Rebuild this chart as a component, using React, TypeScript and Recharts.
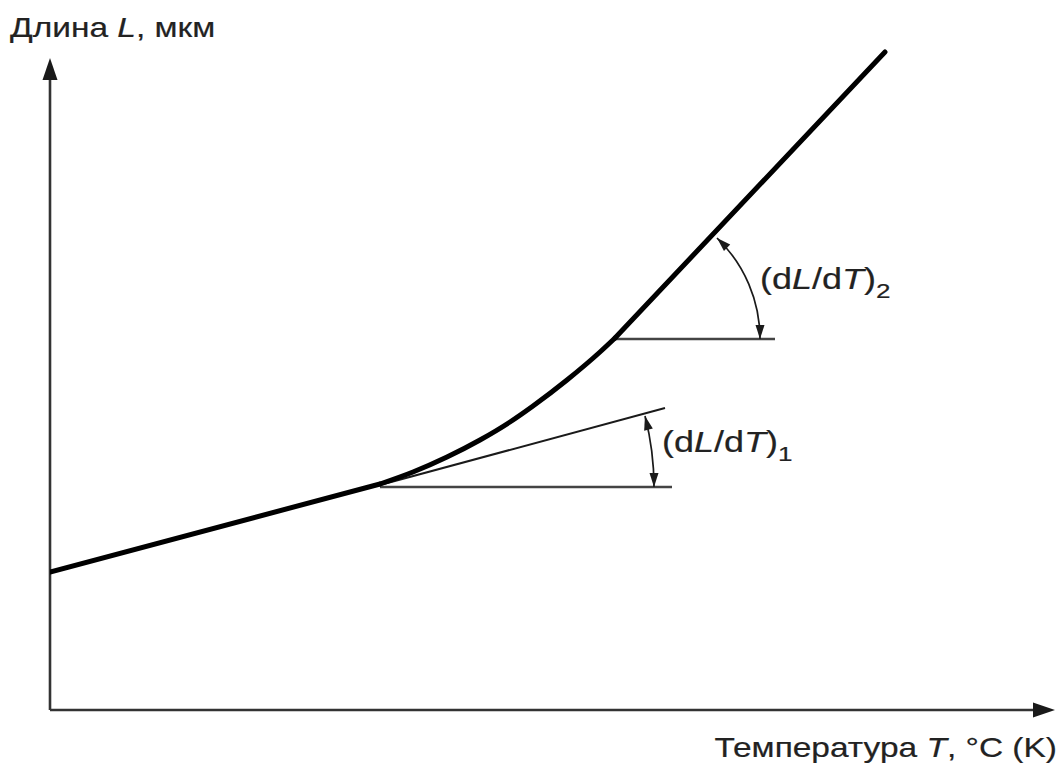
import React from 'react';
import { ComposedChart, Line, XAxis, YAxis, ReferenceLine, ReferenceDot } from 'recharts';

// Expansion curve: lower straight part, transition, upper straight part (T, L in arbitrary units)
const lowT = [0, 33];
const lowL = [13.8, 22.6];
const bendT = [33, 36.3, 39.7, 43, 46, 48.3, 51.7, 55, 56.5];
const bendL = [22.6, 23.8, 25.3, 27.0, 28.8, 30.4, 33.0, 35.8, 37.2];
const highT = [56.5, 83.5];
const highL = [37.2, 65.8];

// Tangent at the transition start
const tangentT = [33, 61.5];
const tangentL = [22.5, 30.2];

// Horizontal reference lines [T start, T end, L]
const horiz1 = [33, 62.2, 22.3];
const horiz2 = [56.3, 72.5, 37.1];

// Arc endpoints [T1, L1, T2, L2]
const arc1 = [59.5, 29.4, 60.4, 22.3];
const arc2 = [66.7, 47.2, 71.0, 37.1];

// Label anchors [T, L]
const label1Pos = [61.2, 25.8];
const label2Pos = [71.0, 42.1];

const axisXEnd = 100.5;
const axisYEnd = 65.2;

const yTitle = 'Длина ';
const yTitleVar = 'L';
const yTitleUnit = ', мкм';
const xTitle = 'Температура ';
const xTitleVar = 'T';
const xTitleUnit = ', °C (K)';

const FONT = '"Liberation Sans", Arial, Helvetica, sans-serif';
const INK = '#1a1a1a';
const STRETCH = 1.24;

const toData = (ts: number[], ls: number[]) => ts.map((t, i) => ({ T: t, L: ls[i] }));
const lowData = toData(lowT, lowL);
const bendData = toData(bendT, bendL);
const highData = toData(highT, highL);
const tangentData = toData(tangentT, tangentL);

function head(tx: number, ty: number, ux: number, uy: number, len: number, w: number) {
  const bx = tx - ux * len;
  const by = ty - uy * len;
  return `${tx},${ty} ${bx - uy * w},${by + ux * w} ${bx + uy * w},${by - ux * w}`;
}

function ArcArrow(p: any) {
  const { x1, y1, x2, y2 } = p;
  const dx = x1 - x2;
  const dy = y1 - y2;
  const r = (dx * dx + dy * dy) / (-2 * dx);
  const cx = x2 - r;
  const cy = y2;
  const vx = (x1 - cx) / r;
  const vy = (y1 - cy) / r;
  return (
    <g>
      <path d={`M${x1},${y1} A${r},${r} 0 0 1 ${x2},${y2}`} fill="none" stroke={INK} strokeWidth={1.7} />
      <polygon points={head(x2, y2, 0, 1, 14, 4.5)} fill={INK} />
      <polygon points={head(x1, y1, vy, -vx, 14, 4.5)} fill={INK} />
    </g>
  );
}

const textStyle = { fontFamily: FONT, fill: '#222', stroke: '#222', strokeWidth: 0.2 } as const;

function AxisArrow(p: any) {
  const { x1, y1, x2, y2, title, v, unit, kind } = p;
  const len = Math.hypot(x2 - x1, y2 - y1);
  const ux = (x2 - x1) / len;
  const uy = (y2 - y1) / len;
  const hl = 22;
  const tx = kind === 'y' ? x2 - 40 : x2 + 2;
  const ty = kind === 'y' ? y2 - 21 : y1 + 47;
  return (
    <g>
      <line x1={x1} y1={y1} x2={x2 - ux * hl} y2={y2 - uy * hl} stroke="#333" strokeWidth={2.6} />
      <polygon points={head(x2, y2, ux, uy, hl, 7.5)} fill={INK} />
      <text
        transform={`translate(${tx},${ty}) scale(${STRETCH},1)`}
        x={0}
        y={0}
        fontSize={27}
        textAnchor={kind === 'y' ? 'start' : 'end'}
        {...textStyle}
      >
        {title}
        <tspan fontStyle="italic">{v}</tspan>
        {unit}
      </text>
    </g>
  );
}

function SlopeLabel(p: any) {
  const { cx, cy, sub } = p;
  return (
    <text transform={`translate(${cx},${cy}) scale(${STRETCH},1)`} x={0} y={0} fontSize={29} {...textStyle}>
      (d<tspan fontStyle="italic">L</tspan>/d<tspan fontStyle="italic">T</tspan>)
      <tspan fontSize={21} dy={9}>{sub}</tspan>
    </text>
  );
}

const curveProps = {
  dataKey: 'L',
  stroke: '#000',
  strokeWidth: 5,
  strokeLinecap: 'round' as const,
  dot: false,
  activeDot: false,
  isAnimationActive: false,
};

export default function App() {
  return (
    <div style={{ position: 'absolute', left: 0, top: 0, width: 1059, height: 764, background: '#fff' }}>
      <ComposedChart width={1059} height={764} margin={{ top: 10, right: 9, bottom: 54, left: 50 }}>
        <XAxis type="number" dataKey="T" domain={[0, 100]} allowDataOverflow hide />
        <YAxis type="number" dataKey="L" domain={[0, 70]} allowDataOverflow hide />

        <ReferenceLine
          segment={[{ x: 0, y: 0 }, { x: axisXEnd, y: 0 }]}
          ifOverflow="visible"
          shape={(p: any) => <AxisArrow {...p} kind="x" title={xTitle} v={xTitleVar} unit={xTitleUnit} />}
        />
        <ReferenceLine
          segment={[{ x: 0, y: 0 }, { x: 0, y: axisYEnd }]}
          ifOverflow="visible"
          shape={(p: any) => <AxisArrow {...p} kind="y" title={yTitle} v={yTitleVar} unit={yTitleUnit} />}
        />

        <ReferenceLine
          segment={[{ x: horiz1[0], y: horiz1[2] }, { x: horiz1[1], y: horiz1[2] }]}
          ifOverflow="visible"
          stroke="#444"
          strokeWidth={2.4}
        />
        <ReferenceLine
          segment={[{ x: horiz2[0], y: horiz2[2] }, { x: horiz2[1], y: horiz2[2] }]}
          ifOverflow="visible"
          stroke="#444"
          strokeWidth={2.4}
        />

        <Line
          data={tangentData}
          dataKey="L"
          type="linear"
          stroke={INK}
          strokeWidth={2}
          dot={false}
          activeDot={false}
          isAnimationActive={false}
        />
        <Line data={lowData} type="linear" {...curveProps} />
        <Line data={bendData} type="monotone" {...curveProps} />
        <Line data={highData} type="linear" {...curveProps} />

        <ReferenceLine
          segment={[{ x: arc1[0], y: arc1[1] }, { x: arc1[2], y: arc1[3] }]}
          ifOverflow="visible"
          shape={(p: any) => <ArcArrow {...p} />}
        />
        <ReferenceLine
          segment={[{ x: arc2[0], y: arc2[1] }, { x: arc2[2], y: arc2[3] }]}
          ifOverflow="visible"
          shape={(p: any) => <ArcArrow {...p} />}
        />

        <ReferenceDot x={label1Pos[0]} y={label1Pos[1]} ifOverflow="visible" shape={(p: any) => <SlopeLabel {...p} sub="1" />} />
        <ReferenceDot x={label2Pos[0]} y={label2Pos[1]} ifOverflow="visible" shape={(p: any) => <SlopeLabel {...p} sub="2" />} />
      </ComposedChart>
    </div>
  );
}
